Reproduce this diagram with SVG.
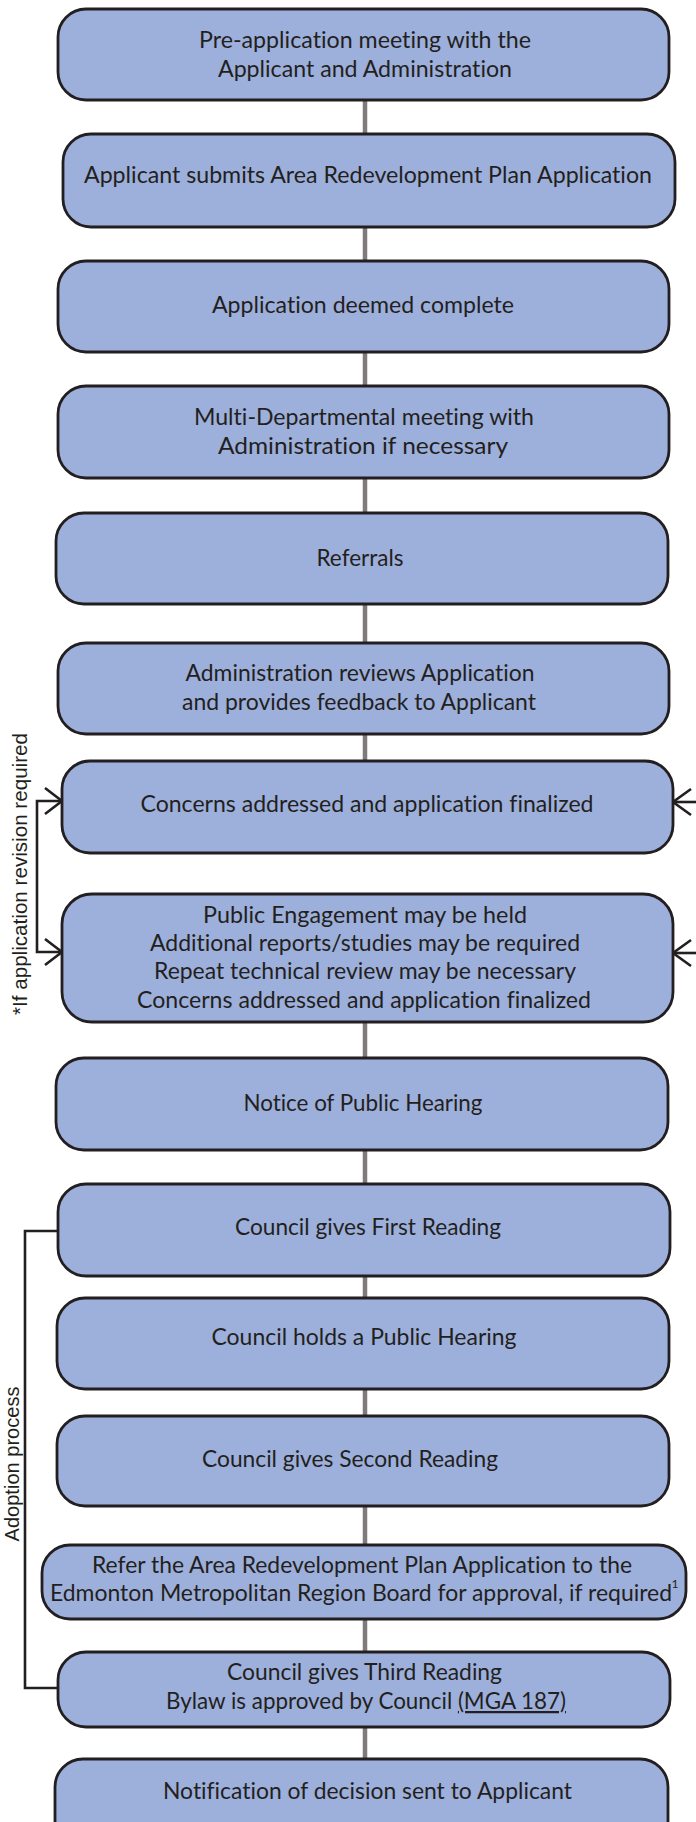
<svg xmlns="http://www.w3.org/2000/svg" width="696" height="1822" viewBox="0 0 696 1822">
<defs>
<style>
.box{fill:#9dafdb;stroke:#231f20;stroke-width:2.8}
.t{font-family:Lato,"Liberation Sans",sans-serif;font-size:22.5px;fill:#231f20;text-anchor:middle;font-variant-ligatures:none}
.side{font-family:"Liberation Sans",Arial,sans-serif;font-size:20.5px;fill:#231f20;text-anchor:middle}
.conn{stroke:#7f7a7b;stroke-width:4.5;fill:none}
.br{stroke:#231f20;stroke-width:2.6;fill:none}
</style>
</defs>
<rect width="696" height="1822" fill="#ffffff"/>
<g id="connectors">
<line class="conn" x1="365" y1="100" x2="365" y2="134"/>
<line class="conn" x1="365" y1="227" x2="365" y2="261"/>
<line class="conn" x1="365" y1="352" x2="365" y2="386"/>
<line class="conn" x1="365" y1="478" x2="365" y2="513"/>
<line class="conn" x1="365" y1="604" x2="365" y2="643"/>
<line class="conn" x1="365" y1="734" x2="365" y2="761"/>
<line class="conn" x1="365" y1="1022" x2="365" y2="1058"/>
<line class="conn" x1="365" y1="1150" x2="365" y2="1184"/>
<line class="conn" x1="365" y1="1276" x2="365" y2="1298"/>
<line class="conn" x1="365" y1="1389" x2="365" y2="1416"/>
<line class="conn" x1="365" y1="1506" x2="365" y2="1545"/>
<line class="conn" x1="365" y1="1619" x2="365" y2="1652"/>
<line class="conn" x1="365" y1="1727" x2="365" y2="1759"/>
<g id="revision-bracket">
<polyline class="br" points="62,801 37,801 37,952 62,952"/>
<polyline class="br" points="45,788 62,801 45,814"/>
<polyline class="br" points="45,939 62,952 45,965"/>
</g>
<g id="right-arrows">
<line class="br" x1="673" y1="802" x2="696" y2="802"/>
<polyline class="br" points="691,789 673,802 691,815"/>
<line class="br" x1="673" y1="953" x2="696" y2="953"/>
<polyline class="br" points="691,940 673,953 691,966"/>
</g>
<g id="adoption-bracket">
<polyline class="br" points="58,1231 25,1231 25,1688 58,1688"/>
</g>
</g>
<text class="side" transform="translate(27,874) rotate(-90)" textLength="282" lengthAdjust="spacingAndGlyphs">*If application revision required</text>
<text class="side" transform="translate(19,1464) rotate(-90)" textLength="155" lengthAdjust="spacingAndGlyphs">Adoption process</text>

<g id="n1"><rect class="box" x="58" y="9" width="611" height="91" rx="28"/>
<text class="t" x="365" y="48" textLength="332" lengthAdjust="spacingAndGlyphs">Pre-application meeting with the</text>
<text class="t" x="365" y="77" textLength="294" lengthAdjust="spacingAndGlyphs">Applicant and Administration</text></g>

<g id="n2"><rect class="box" x="63" y="134" width="612" height="93" rx="28"/>
<text class="t" x="368" y="183" textLength="568" lengthAdjust="spacingAndGlyphs">Applicant submits Area Redevelopment Plan Application</text></g>

<g id="n3"><rect class="box" x="58" y="261" width="611" height="91" rx="28"/>
<text class="t" x="363" y="313" textLength="302" lengthAdjust="spacingAndGlyphs">Application deemed complete</text></g>

<g id="n4"><rect class="box" x="58" y="386" width="611" height="92" rx="28"/>
<text class="t" x="364" y="425" textLength="340" lengthAdjust="spacingAndGlyphs">Multi-Departmental meeting with</text>
<text class="t" x="363" y="454" textLength="290" lengthAdjust="spacingAndGlyphs">Administration if necessary</text></g>

<g id="n5"><rect class="box" x="56" y="513" width="612" height="91" rx="28"/>
<text class="t" x="360" y="566" textLength="87" lengthAdjust="spacingAndGlyphs">Referrals</text></g>

<g id="n6"><rect class="box" x="58" y="643" width="611" height="91" rx="28"/>
<text class="t" x="360" y="681" textLength="349" lengthAdjust="spacingAndGlyphs">Administration reviews Application</text>
<text class="t" x="359" y="710" textLength="354" lengthAdjust="spacingAndGlyphs">and provides feedback to Applicant</text></g>

<g id="n7"><rect class="box" x="62" y="761" width="611" height="92" rx="28"/>
<text class="t" x="367" y="812" textLength="453" lengthAdjust="spacingAndGlyphs">Concerns addressed and application finalized</text></g>

<g id="n8"><rect class="box" x="62" y="894" width="611" height="128" rx="30"/>
<text class="t" x="365" y="923" textLength="324" lengthAdjust="spacingAndGlyphs">Public Engagement may be held</text>
<text class="t" x="365" y="951" textLength="430" lengthAdjust="spacingAndGlyphs">Additional reports/studies may be required</text>
<text class="t" x="365" y="979" textLength="422" lengthAdjust="spacingAndGlyphs">Repeat technical review may be necessary</text>
<text class="t" x="364" y="1008" textLength="454" lengthAdjust="spacingAndGlyphs">Concerns addressed and application finalized</text></g>

<g id="n9"><rect class="box" x="56" y="1058" width="612" height="92" rx="28"/>
<text class="t" x="363" y="1111" textLength="239" lengthAdjust="spacingAndGlyphs">Notice of Public Hearing</text></g>

<g id="n10"><rect class="box" x="58" y="1184" width="612" height="92" rx="28"/>
<text class="t" x="368" y="1235" textLength="266" lengthAdjust="spacingAndGlyphs">Council gives First Reading</text></g>

<g id="n11"><rect class="box" x="57" y="1298" width="612" height="91" rx="28"/>
<text class="t" x="364" y="1345" textLength="305" lengthAdjust="spacingAndGlyphs">Council holds a Public Hearing</text></g>

<g id="n12"><rect class="box" x="57" y="1416" width="612" height="90" rx="28"/>
<text class="t" x="350" y="1467" textLength="296" lengthAdjust="spacingAndGlyphs">Council gives Second Reading</text></g>

<g id="n13"><rect class="box" x="42" y="1545" width="644" height="74" rx="28"/>
<text class="t" x="362" y="1573" textLength="540" lengthAdjust="spacingAndGlyphs">Refer the Area Redevelopment Plan Application to the</text>
<text class="t" x="361" y="1601" textLength="622" lengthAdjust="spacingAndGlyphs">Edmonton Metropolitan Region Board for approval, if required</text>
<text class="t" x="675" y="1588" style="font-size:12px">1</text></g>

<g id="n14"><rect class="box" x="58" y="1652" width="612" height="75" rx="28"/>
<text class="t" x="364.5" y="1680" textLength="275" lengthAdjust="spacingAndGlyphs">Council gives Third Reading</text>
<text class="t" x="366" y="1709" textLength="400" lengthAdjust="spacingAndGlyphs">Bylaw is approved by Council <tspan text-decoration="underline">(MGA 187)</tspan></text></g>

<g id="n15"><rect class="box" x="55" y="1759" width="613" height="95" rx="28"/>
<text class="t" x="367.5" y="1799" textLength="409" lengthAdjust="spacingAndGlyphs">Notification of decision sent to Applicant</text></g>
</svg>
